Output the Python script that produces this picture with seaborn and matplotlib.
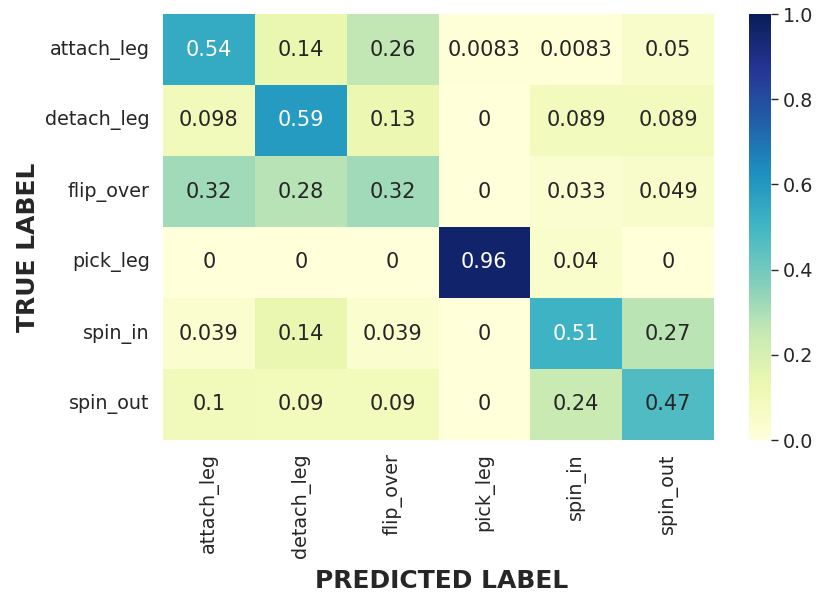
import numpy as np
import pandas as pd
import seaborn as sns
import matplotlib
matplotlib.use("Agg")
import matplotlib.pyplot as plt

classes = ["attach_leg", "detach_leg", "flip_over", "pick_leg", "spin_in", "spin_out"]

row_attach_leg = [0.54, 0.14, 0.26, 0.0083, 0.0083, 0.05]
row_detach_leg = [0.098, 0.59, 0.13, 0, 0.089, 0.089]
row_flip_over = [0.32, 0.28, 0.32, 0, 0.033, 0.049]
row_pick_leg = [0, 0, 0, 0.96, 0.04, 0]
row_spin_in = [0.039, 0.14, 0.039, 0, 0.51, 0.27]
row_spin_out = [0.1, 0.09, 0.09, 0, 0.24, 0.47]

cm = pd.DataFrame(
    [row_attach_leg, row_detach_leg, row_flip_over, row_pick_leg, row_spin_in, row_spin_out],
    index=classes, columns=classes,
)

sns.set_theme(context="notebook", style="white", font_scale=1.25)

fig = plt.figure(figsize=(8.16, 5.96), dpi=100)
ax = fig.add_axes([163 / 816, 1 - 440 / 596, 551 / 816, 426 / 596])
cax = fig.add_axes([749 / 816, 1 - 440 / 596, 22 / 816, 426 / 596])

sns.heatmap(cm, annot=True, fmt=".2g", cmap="YlGnBu", vmin=0, vmax=1,
            ax=ax, cbar_ax=cax, annot_kws={"size": 15})

ax.set_xlabel("PREDICTED LABEL", fontsize=18, fontweight="bold", labelpad=8, x=0.505)
ax.set_ylabel("TRUE LABEL", fontsize=18, fontweight="bold", labelpad=3.5, y=0.453)
ax.tick_params(axis="both", length=0, labelsize=13.75, pad=9.5)
plt.setp(ax.get_xticklabels(), rotation=90)
plt.setp(ax.get_yticklabels(), rotation=0)
cax.tick_params(labelsize=13.75, length=5, width=1, colors="#262626")
cax.set_yticks([0, 0.2, 0.4, 0.6, 0.8, 1.0])

fig.savefig("out.png", dpi=100)
